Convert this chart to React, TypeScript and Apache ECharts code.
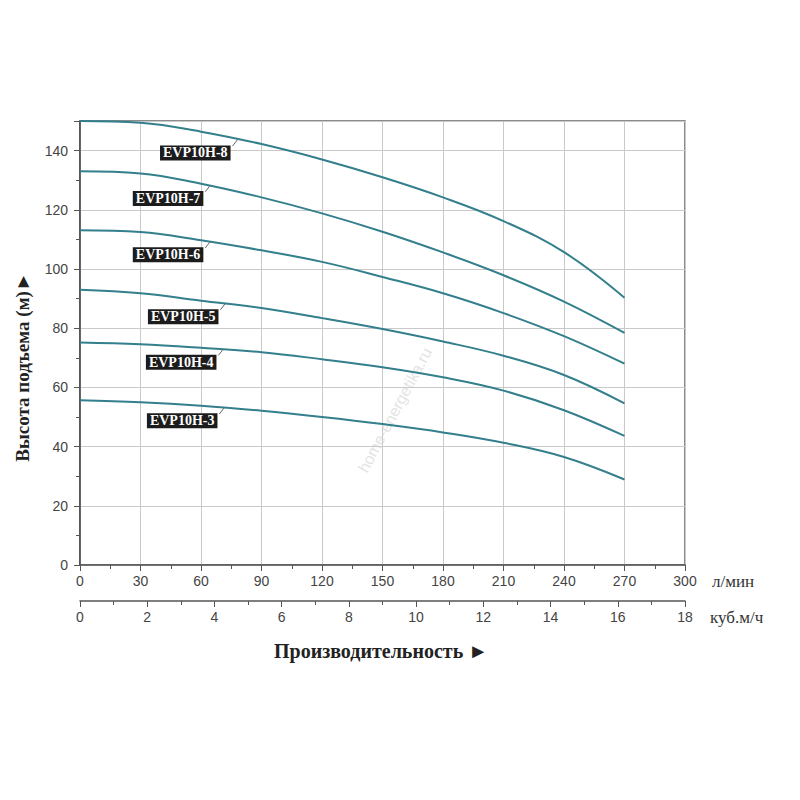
import { useEffect, useRef } from "react";
import * as echarts from "echarts";

// flow, l/min
const flow = [0, 30, 60, 90, 120, 150, 180, 210, 240, 270];

const names = ["EVP10H-8", "EVP10H-7", "EVP10H-6", "EVP10H-5", "EVP10H-4", "EVP10H-3"];

// head, m
const h8 = [150, 149.4, 146.4, 142.2, 137.0, 131.0, 124.2, 116.2, 105.7, 90.3];
const h7 = [133, 132.3, 128.8, 124.2, 118.8, 112.6, 105.6, 97.9, 89.0, 78.4];
const h6 = [113.1, 112.5, 109.7, 106.3, 102.4, 97.3, 91.8, 85.1, 77.3, 68.0];
const h5 = [93, 91.8, 89.3, 86.8, 83.4, 79.7, 75.5, 70.7, 64.2, 54.6];
const h4 = [75.2, 74.6, 73.4, 71.9, 69.5, 66.8, 63.4, 58.9, 52.3, 43.6];
const h3 = [55.7, 55.0, 53.8, 52.1, 50.0, 47.6, 44.8, 41.3, 36.5, 28.9];
const heads = [h8, h7, h6, h5, h4, h3];

// where each tag's leader touches its curve
const tagFlow = [78, 64.5, 64.5, 72, 71, 71.5];
const tagHead = [143.6, 128.2, 109.2, 88.3, 72.9, 53.1];

const LINE = "#337f8c";
const AXIS = "#555";
const GRIDC = "#c9c9c9";

export default function App() {
  const ref = useRef<HTMLDivElement>(null);
  useEffect(() => {
    document.body.style.margin = "0";
    if (!ref.current) return;
    const chart = echarts.init(ref.current, undefined, { renderer: "svg" });
    const tickLabel = { color: "#444", fontFamily: "Liberation Sans", fontSize: 14 };
    const unitStyle = {
      fontFamily: "Liberation Serif",
      fontSize: 17,
      color: "#333",
      align: "left" as const,
      verticalAlign: "top" as const,
      padding: [8, 0, 0, 0],
    };
    chart.setOption({
      animation: false,
      backgroundColor: "#fff",
      grid: {
        left: 80, right: 115, top: 121, bottom: 235,
        show: true, borderColor: "#666", borderWidth: 1.5,
      },
      xAxis: [
        {
          type: "value", min: 0, max: 300, interval: 30, position: "bottom",
          axisLine: { show: true, lineStyle: { color: AXIS, width: 1.5 } },
          axisTick: { show: true, length: 6, lineStyle: { color: AXIS } },
          minorTick: { show: true, splitNumber: 2, length: 4, lineStyle: { color: AXIS } },
          splitLine: { show: true, lineStyle: { color: GRIDC, width: 1 } },
          axisLabel: { ...tickLabel, margin: 9 },
          name: "л/мин", nameLocation: "end", nameGap: 27, nameTextStyle: unitStyle,
        },
        {
          type: "value", min: 0, max: 18, interval: 2, position: "bottom", offset: 36,
          axisLine: { show: true, lineStyle: { color: AXIS, width: 1.5 } },
          axisTick: { show: true, length: 6, lineStyle: { color: AXIS } },
          minorTick: { show: true, splitNumber: 2, length: 4, lineStyle: { color: AXIS } },
          splitLine: { show: false },
          axisLabel: { ...tickLabel, margin: 9 },
          name: "куб.м/ч", nameLocation: "end", nameGap: 25, nameTextStyle: unitStyle,
        },
      ],
      yAxis: {
        type: "value", min: 0, max: 150, interval: 20,
        axisLine: { show: true, lineStyle: { color: "#444", width: 1.5 } },
        axisTick: { show: true, length: 6, lineStyle: { color: AXIS } },
        minorTick: { show: true, splitNumber: 2, length: 4, lineStyle: { color: AXIS } },
        splitLine: { show: true, lineStyle: { color: GRIDC, width: 1 } },
        axisLabel: { ...tickLabel, margin: 12, formatter: (v: number) => (v % 20 === 0 ? String(v) : "") },
      },
      series: heads.map((h, i) => ({
        type: "line",
        name: names[i],
        xAxisIndex: 0,
        data: flow.map((f, j) => [f, h[j]]),
        smooth: 0.4,
        showSymbol: false,
        lineStyle: { color: LINE, width: 2 },
        silent: true,
        markPoint: {
          symbol: "circle",
          symbolSize: 0,
          silent: true,
          data: [{ coord: [tagFlow[i], tagHead[i]] }],
          label: {
            show: true,
            formatter: names[i],
            position: "inside",
            offset: [-42, 13],
            backgroundColor: "#1c1c1c",
            color: "#fff",
            fontFamily: "Liberation Serif",
            fontWeight: "bold",
            fontSize: 14,
            padding: [1, 3, 0, 3],
          },
        },
        markLine: {
          symbol: ["none", "none"],
          silent: true,
          label: { show: false },
          lineStyle: { color: "#666", width: 1, type: "solid" },
          data: [[
            { coord: [tagFlow[i], tagHead[i]] },
            { coord: [tagFlow[i] - 2.4, tagHead[i] - 2.1] },
          ]],
        },
      })),
      graphic: [
        {
          type: "text", x: 395, y: 410, rotation: 1.08, silent: true, z: 0,
          style: {
            text: "home-energetika.ru", fill: "#e4e4e4",
            font: "16px 'Liberation Sans'", textAlign: "center", textVerticalAlign: "middle",
          },
        },
        {
          type: "text", x: 22, y: 367, rotation: Math.PI / 2,
          style: {
            text: "Высота подъема (м)►", fill: "#222",
            font: "bold 19px 'Liberation Serif'", textAlign: "center", textVerticalAlign: "middle",
          },
        },
        {
          type: "text", x: 381, y: 651,
          style: {
            text: "Производительность ►", fill: "#222",
            font: "bold 20px 'Liberation Serif'", textAlign: "center", textVerticalAlign: "middle",
          },
        },
      ],
    });
    return () => chart.dispose();
  }, []);
  return <div ref={ref} style={{ width: 800, height: 800 }} />;
}
